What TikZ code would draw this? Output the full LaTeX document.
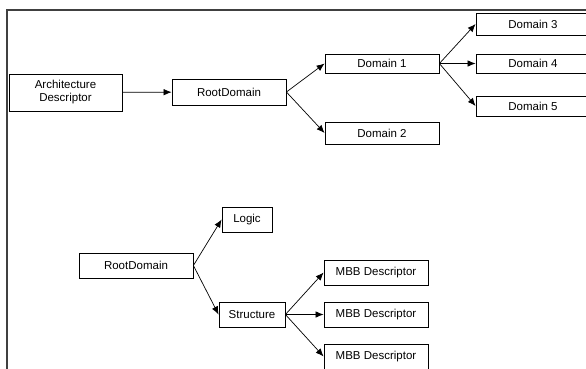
\documentclass[tikz,border=0pt]{standalone}
\usepackage{fontspec}
\setmainfont{Liberation Sans}
\usetikzlibrary{arrows.meta,positioning}

\begin{document}
\begin{tikzpicture}[x=1pt,y=-1pt,
    every node/.style={font=\fontsize{11.5}{13}\selectfont},
    box/.style={draw, line width=0.8pt, inner sep=0pt, minimum height=25},
    link/.style={-{Latex[length=8pt,width=6.5pt]}, line width=0.7pt}]

  \useasboundingbox (0,0) rectangle (586,368);
  \clip (0,0) rectangle (586,368);

  % draw the frame
  \draw [line width=1.2pt, black!75] (7,10) rectangle (620,400);

  % upper tree
  \node [box, minimum width=113, minimum height=37, align=center] (arch) at (65.5,92.5) {Architecture\\Descriptor};
  \node [box, minimum width=114, minimum height=26] (root) at (229,92) {RootDomain};
  \node [box, minimum width=114, minimum height=19] (dom1) at (382,63.5) {Domain 1};
  \node [box, minimum width=114, minimum height=22] (dom2) at (382,133) {Domain 2};

  \draw [link] (arch) -- (root);
  \draw [link] (root.east) -- (dom1.west);
  \draw [link] (root.east) -- (dom2.west);

  \foreach \n/\y/\h in {3/24/22, 4/63.5/19, 5/106/20}
  {
    \node [box, minimum width=114, minimum height=\h] (dom\n) at (533,\y) {Domain \n};
    \draw [link] (dom1.east) -- (dom\n.west);
  }

  % lower tree
  \node [box, minimum width=114] (root2) at (136,265.5) {RootDomain};
  \node [box, minimum width=50] (logic) at (247,219.5) {Logic};
  \node [box, minimum width=66] (struct) at (252,314.5) {Structure};

  \draw [link] (root2.east) -- (logic.west);
  \draw [link] (root2.east) -- (struct.west);

  \foreach \y [count=\i] in {272.5,314.5,356.5}
  {
    \node [box, minimum width=104] (mbb\i) at (376,\y) {MBB Descriptor};
    \draw [link] (struct.east) -- (mbb\i.west);
  }

\end{tikzpicture}
\end{document}
